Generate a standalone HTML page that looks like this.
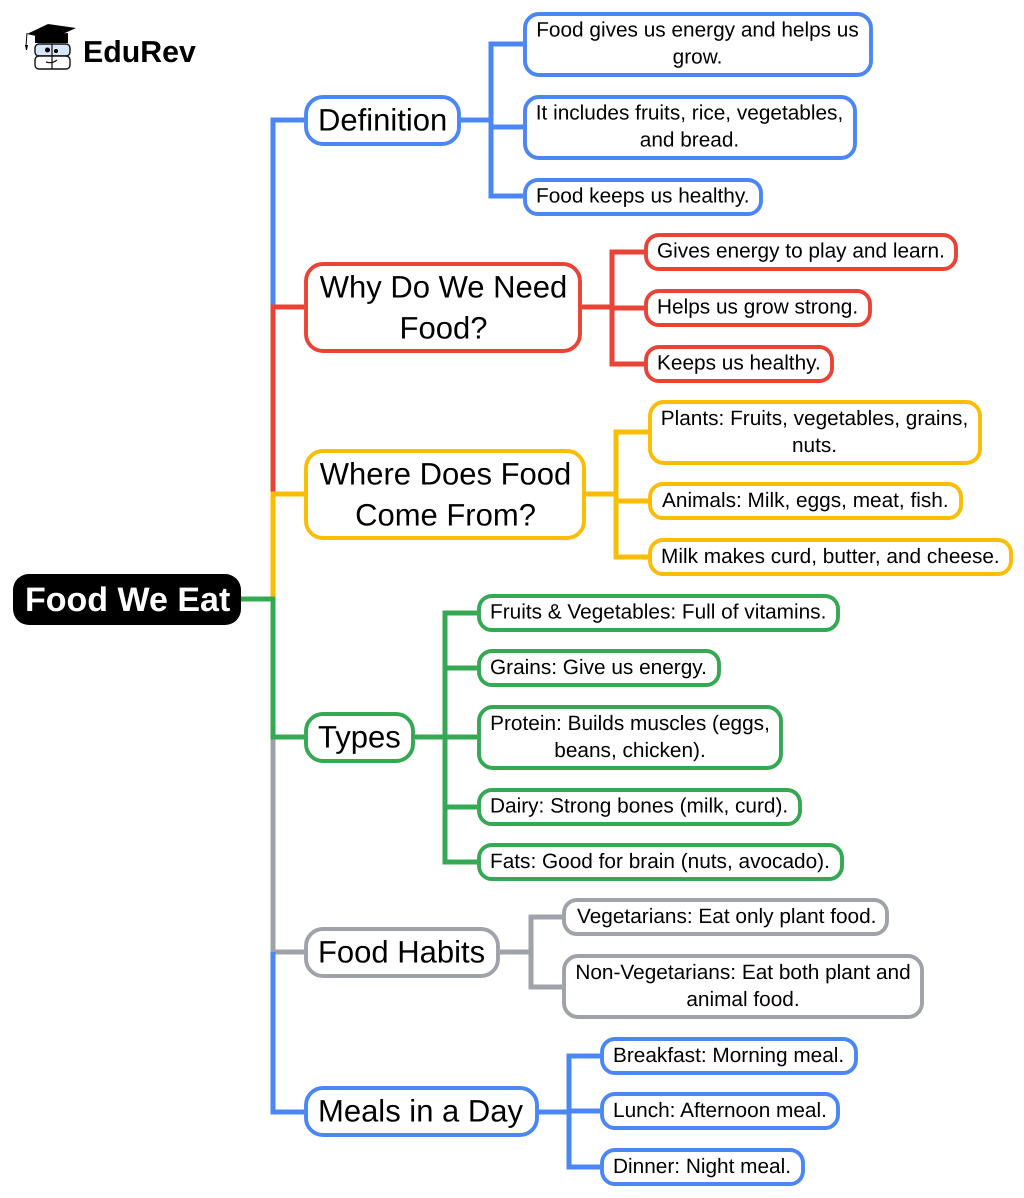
<!DOCTYPE html>
<html><head><meta charset="utf-8"><style>
html,body{margin:0;padding:0;background:#fff}
svg{display:block}
text{font-family:"Liberation Sans",sans-serif;fill:#000;text-rendering:geometricPrecision}
.l{font-size:20.8px}.b{font-size:31px}
.m{text-anchor:middle}
rect{fill:#fff;stroke-width:3.9}
path{fill:none;stroke-width:5}
.B{stroke:#4a87f5}.R{stroke:#ea4335}.Y{stroke:#fbbc04}.G{stroke:#34a853}.A{stroke:#a0a2aa}
</style></head><body>
<svg width="1024" height="1198" viewBox="0 0 1024 1198" xmlns="http://www.w3.org/2000/svg">
<rect x="0" y="0" width="1024" height="1198" style="fill:#fff;stroke:none"/>
<!-- logo -->
<polygon points="27,34 48,24 76,28 56,37 45,38" fill="#000"/>
<polygon points="25,45 28,45 27,50 26,50" fill="#000"/>
<path d="M27,33 L26,46" style="stroke:#000;stroke-width:1"/>
<polygon points="35,36 68,33 68,43 35,43" fill="#000"/>
<rect x="35" y="44" width="35" height="12" rx="4" style="fill:#d8e6fb;stroke:#111;stroke-width:1.4"/>
<rect x="35" y="56" width="35" height="13" rx="4" style="fill:#fff;stroke:#111;stroke-width:1.4"/>
<path d="M52,44 L52,69" style="stroke:#111;stroke-width:1.2"/>
<circle cx="47.500" cy="50" r="2.500" fill="#000"/><circle cx="56" cy="51" r="2" fill="#000"/>
<path d="M46,62 Q52,64 57,60" style="stroke:#111;stroke-width:1.2"/>
<text x="83" y="62" style="font-size:30.300px;font-weight:bold">EduRev</text>

<!-- trunk -->
<path class="B" d="M304,120 H273 V307"/>
<path class="R" d="M304,307 H273 V494"/>
<path class="Y" d="M304,494 H273 V599"/>
<path class="A" d="M273,737 V952 H304"/>
<path class="B" d="M273,952 V1112 H304"/>
<path class="G" d="M241,599 H273 V737 H304"/>

<!-- branches -->
<path class="B" d="M461,120 H491 M523,44 H491 V196 H523 M491,127 H523"/>
<path class="R" d="M582,307 H612 M644,252 H612 V364 H644 M612,308 H644"/>
<path class="Y" d="M586,494 H616 M648,432 H616 V557 H648 M616,501 H648"/>
<path class="G" d="M415,737 H445 M477,613 H445 V862 H477 M445,668 H477 M445,737 H477 M445,807 H477"/>
<path class="A" d="M500,952 H531 M562,917 H531 V987 H562"/>
<path class="B" d="M539,1112 H569 M600,1056 H569 V1167 H600 M569,1111 H600"/>

<!-- root -->
<rect x="13" y="574" width="228" height="51" rx="16" style="fill:#000;stroke:none"/>
<text x="25" y="611" style="font-size:34px;font-weight:bold;fill:#fff">Food We Eat</text>

<!-- Definition -->
<rect class="B" x="306" y="97" width="153" height="47" rx="17"/>
<text class="b" x="318" y="130.500">Definition</text>
<rect class="B" x="525" y="14" width="346" height="61" rx="14"/>
<text class="l m" x="697.500" y="36.500">Food gives us energy and helps us</text>
<text class="l m" x="697.500" y="63.500">grow.</text>
<rect class="B" x="525" y="97" width="330" height="61" rx="14"/>
<text class="l m" x="689.500" y="119.500">It includes fruits, rice, vegetables,</text>
<text class="l m" x="689.500" y="146.500">and bread.</text>
<rect class="B" x="525" y="180" width="236" height="34" rx="13"/>
<text class="l" x="536" y="202.500">Food keeps us healthy.</text>

<!-- Why -->
<rect class="R" x="306" y="264" width="274" height="87" rx="17"/>
<text class="b m" x="443.500" y="297.500">Why Do We Need</text>
<text class="b m" x="443.500" y="338.500">Food?</text>
<rect class="R" x="646" y="235" width="310" height="34" rx="13"/>
<text class="l" x="657" y="257.500">Gives energy to play and learn.</text>
<rect class="R" x="646" y="291" width="224" height="34" rx="13"/>
<text class="l" x="657" y="313.500">Helps us grow strong.</text>
<rect class="R" x="646" y="347" width="186" height="34" rx="13"/>
<text class="l" x="657" y="369.500">Keeps us healthy.</text>

<!-- Where -->
<rect class="Y" x="306" y="451" width="278" height="87" rx="17"/>
<text class="b m" x="445.500" y="484.500">Where Does Food</text>
<text class="b m" x="445.500" y="525.500">Come From?</text>
<rect class="Y" x="650" y="402" width="330" height="61" rx="14"/>
<text class="l m" x="814.500" y="425">Plants: Fruits, vegetables, grains,</text>
<text class="l m" x="814.500" y="452">nuts.</text>
<rect class="Y" x="650" y="484" width="311" height="34" rx="13"/>
<text class="l" x="662" y="507">Animals: Milk, eggs, meat, fish.</text>
<rect class="Y" x="650" y="540" width="361" height="34" rx="13"/>
<text class="l" x="661" y="563">Milk makes curd, butter, and cheese.</text>

<!-- Types -->
<rect class="G" x="306" y="714" width="107" height="47" rx="17"/>
<text class="b" x="318" y="747.500">Types</text>
<rect class="G" x="479" y="596" width="359" height="34" rx="13"/>
<text class="l" x="490" y="618.500">Fruits &amp; Vegetables: Full of vitamins.</text>
<rect class="G" x="479" y="651" width="240" height="34" rx="13"/>
<text class="l" x="490" y="674">Grains: Give us energy.</text>
<rect class="G" x="479" y="707" width="302" height="61" rx="14"/>
<text class="l m" x="630" y="730">Protein: Builds muscles (eggs,</text>
<text class="l m" x="630" y="757">beans, chicken).</text>
<rect class="G" x="479" y="790" width="321" height="34" rx="13"/>
<text class="l" x="490" y="812.500">Dairy: Strong bones (milk, curd).</text>
<rect class="G" x="479" y="845" width="363" height="34" rx="13"/>
<text class="l" x="490" y="868">Fats: Good for brain (nuts, avocado).</text>

<!-- Habits -->
<rect class="A" x="306" y="929" width="192" height="47" rx="17"/>
<text class="b" x="318" y="962.500">Food Habits</text>
<rect class="A" x="564" y="900" width="323" height="34" rx="13"/>
<text class="l" x="577" y="923">Vegetarians: Eat only plant food.</text>
<rect class="A" x="564" y="956" width="358" height="61" rx="14"/>
<text class="l m" x="743" y="979">Non-Vegetarians: Eat both plant and</text>
<text class="l m" x="743" y="1006">animal food.</text>

<!-- Meals -->
<rect class="B" x="306" y="1088" width="231" height="47" rx="17"/>
<text class="b" x="318" y="1121.500">Meals in a Day</text>
<rect class="B" x="602" y="1039" width="254" height="34" rx="13"/>
<text class="l" x="613" y="1062">Breakfast: Morning meal.</text>
<rect class="B" x="602" y="1094" width="236" height="34" rx="13"/>
<text class="l" x="613" y="1117">Lunch: Afternoon meal.</text>
<rect class="B" x="602" y="1150" width="201" height="34" rx="13"/>
<text class="l" x="613" y="1173">Dinner: Night meal.</text>
</svg>
</body></html>
